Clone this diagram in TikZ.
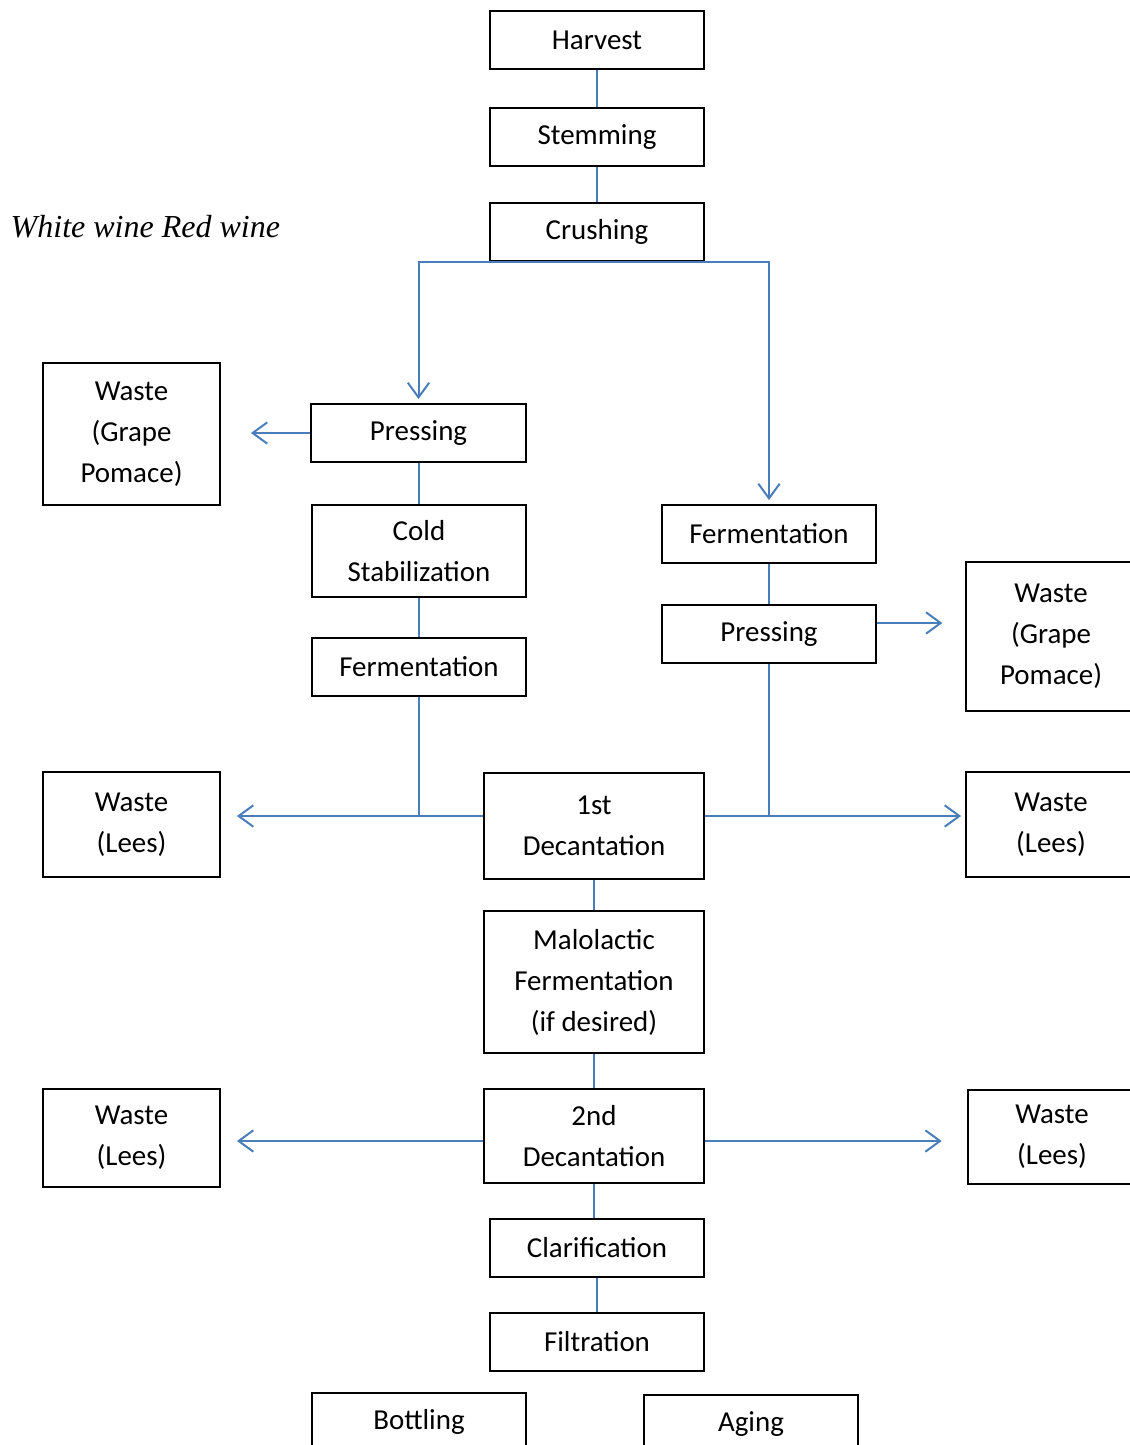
\documentclass[tikz,border=0pt]{standalone}
\usepackage{fontspec}
\setmainfont{Carlito}
\newfontfamily\timesfont{Liberation Serif}
\usetikzlibrary{arrows.meta,positioning,calc}
\definecolor{flowblue}{RGB}{74,126,187}

\begin{document}
\begin{tikzpicture}[x=0.75pt, y=-0.75pt,
  stage/.style={draw, line width=1.4pt, align=center, inner sep=2pt,
    minimum width=160.5pt, minimum height=43.5pt,
    font=\fontsize{21.7}{30.75}\selectfont},
  waste/.style={stage, minimum width=132.75pt},
  flow/.style={draw=flowblue, line width=1.5pt},
  >={Straight Barb[length=11pt,width=16pt]}]

\useasboundingbox (0,0) rectangle (1130,1445);

% main line
\node [stage] (harv)  at (597,40)  {Harvest};
\node [stage] (stem)  at (597,137) {Stemming};
\node [stage] (crush) at (597,232) {Crushing};

\node [anchor=base west, font=\timesfont\itshape\fontsize{24}{28}\selectfont]
  (title) at (6,237) {White wine Red wine};

% white wine
\node [stage, minimum width=161.25pt] (pressL) at (418.5,433) {Pressing};
\node [stage, minimum height=69pt] (cold) at (419,551) {Cold\\Stabilization};
\node [stage] (fermL) at (419,667) {Fermentation};
\node [waste, minimum height=106.5pt] (wasteGL) at (131.5,434) {Waste\\(Grape\\Pomace)};

% red wine
\node [stage] (fermR)  at (769,534) {Fermentation};
\node [stage] (pressR) at (769,634) {Pressing};
\node [waste, minimum width=127.5pt, minimum height=111.75pt] (wasteGR) at (1051,636.5) {Waste\\(Grape\\Pomace)};

% decantations
\node [stage, minimum width=165pt, minimum height=79.5pt] (dec1) at (594,826) {1st\\Decantation};
\node [stage, minimum width=165pt, minimum height=106.5pt] (malo) at (594,982) {Malolactic\\Fermentation\\(if desired)};
\node [stage, minimum width=165pt, minimum height=70.5pt] (dec2) at (594,1136) {2nd\\Decantation};

\node [waste, minimum height=78.75pt] (leesL1) at (131.5,824.5) {Waste\\(Lees)};
\node [waste, minimum width=127.5pt, minimum height=78.75pt] (leesR1) at (1051,824.5) {Waste\\(Lees)};
\node [waste, minimum height=73.5pt] (leesL2) at (131.5,1138) {Waste\\(Lees)};
\node [waste, minimum width=126pt, minimum height=70.5pt] (leesR2) at (1052,1137) {Waste\\(Lees)};

% finishing
\node [stage] (clar)   at (597,1248) {Clarification};
\node [stage] (filt)   at (597,1342) {Filtration};
\node [stage] (bottle) at (419,1422) {Bottling};
\node [stage] (aging)  at (751,1424) {Aging};

% connectors
\foreach \a/\b in {harv/stem, stem/crush, pressL/cold, cold/fermL, fermR/pressR,
                   dec1/malo, malo/dec2, dec2/clar, clar/filt}
  \draw [flow] (\a.south) -- (\a.south |- \b.north);

\draw [flow, ->, shorten >=3pt] (crush.south) -| (pressL.north);
\draw [flow, ->, shorten >=3pt] (crush.south) -| (fermR.north);

\draw [flow, ->, shorten >=22.5pt] (pressL.west) -- (wasteGL.east |- pressL.west);

\coordinate (pr-out) at ([yshift=8.25pt]pressR.east);
\draw [flow, ->, shorten >=17pt] (pr-out) -- (pr-out -| wasteGR.west);

\coordinate (d1w) at ([yshift=7.5pt]dec1.west);
\coordinate (d1e) at ([yshift=7.5pt]dec1.east);
\draw [flow, ->, shorten >=12pt] (d1w) -- (d1w -| leesL1.east);
\draw [flow] (fermL.south) -- (fermL.south |- d1w);
\draw [flow, ->, shorten >=3pt] (d1e) -- (d1e -| leesR1.west);
\draw [flow] (pressR.south) -- (pressR.south |- d1e);

\coordinate (d2w) at ([yshift=-3.75pt]dec2.west);
\coordinate (d2e) at ([yshift=-3.75pt]dec2.east);
\draw [flow, ->, shorten >=12pt] (d2w) -- (d2w -| leesL2.east);
\draw [flow, ->, shorten >=19pt] (d2e) -- (d2e -| leesR2.west);

\end{tikzpicture}
\end{document}
